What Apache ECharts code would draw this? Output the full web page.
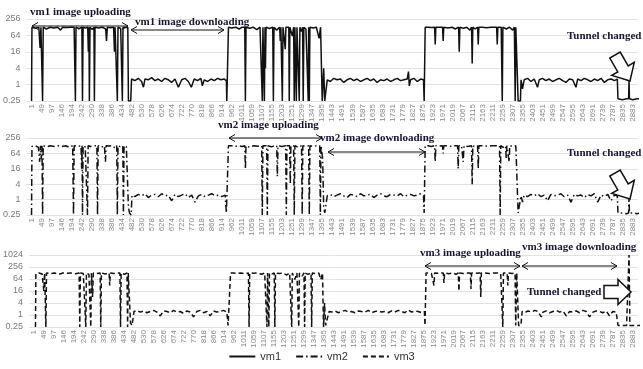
<!DOCTYPE html>
<html>
<head>
<meta charset="utf-8">
<script src="https://cdn.jsdelivr.net/npm/echarts@6/dist/echarts.min.js"></script>
<style>
  html, body { margin: 0; padding: 0; background: #fff; }
  #chart { width: 643px; height: 369px; }
</style>
</head>
<body>
<div id="chart"></div>
<script>
// tick labels of the sample axis (one every ~48 samples)
var xLabels = [1, 49, 97, 146, 194, 242, 290, 338, 386, 434, 482, 530, 578, 626, 674, 722, 770, 818, 866, 914,
  962, 1011, 1059, 1107, 1155, 1203, 1251, 1299, 1347, 1395, 1443, 1491, 1539, 1587, 1635, 1683, 1731, 1779, 1827, 1875,
  1923, 1971, 2019, 2067, 2115, 2163, 2211, 2259, 2307, 2355, 2403, 2451, 2499, 2547, 2595, 2643, 2691, 2739, 2787, 2835, 2883]

var seriesNames = ['vm1', 'vm2', 'vm3']

// [sample, value]
var vm1Data = [
  [1,0.25],[3,128],[20,118],[36,128],[42,22],[46,128],[52,128],[54,0.25],[57,128],[72,110],[90,128],[108,120],[126,128],[140,100],[150,128],[170,125],[188,128],[205,128],[211,0.25],[214,128],[228,112],[242,128],[245,0.25],[248,128],[260,118],[270,128],[273,16],[276,128],[278,0.25],[281,128],[292,105],[300,128],[302,0.25],[305,128],[322,120],[340,128],[356,110],[360,40],[364,128],[380,122],[394,128],[398,16],[401,128],[412,0.25],[415,128],[428,115],[434,128],[436,0.25],[439,128],[452,125],[462,128],[465,0.25],[476,0.25],[480,1.6],
  [496,1.4],[512,1.7],[528,1.3],[537,0.8],[544,1.6],[560,1.5],[576,1.8],[592,1.4],[608,1.6],[624,1.3],[640,1.7],[656,1.5],[672,1.2],[688,1.6],[704,0.8],[720,1.5],[736,1.7],[752,1.3],[766,0.8],[780,1.6],[796,1.4],[812,1.7],[819,0.9],[828,1.5],[844,1.3],[860,1.6],[876,1.4],[892,1.7],[908,1.5],[924,1.6],[934,1.4],[936,0.25],[942,0.25],[944,128],
  [960,120],[978,128],[995,110],[1010,128],[1022,128],[1025,0.25],[1028,128],[1045,118],[1062,128],[1080,105],[1095,128],[1104,128],[1106,0.25],[1109,128],[1113,128],[1116,0.25],[1119,128],[1121,4],[1124,128],[1140,115],[1156,128],[1159,0.25],[1162,128],[1175,100],[1189,128],[1192,40],[1195,128],[1202,0.25],[1205,128],[1213,128],[1216,20],[1219,128],[1233,128],[1235,0.25],[1238,128],[1250,60],[1256,128],[1259,0.25],[1262,128],[1266,128],[1269,0.25],[1272,128],[1280,128],[1283,0.25],[1286,128],[1294,90],[1299,128],[1302,0.25],[1305,128],[1315,110],[1323,128],[1326,0.25],[1328,128],[1331,0.25],[1334,128],[1350,120],[1365,128],[1378,50],[1385,128],[1390,128],[1393,0.25],[1400,4],[1405,0.25],[1412,0.25],[1417,1.5],
  [1432,1.3],[1448,1.7],[1464,1.5],[1480,1.6],[1496,1.2],[1512,1.5],[1528,1.7],[1544,1.4],[1560,1.6],[1576,1.3],[1592,1.5],[1608,1.7],[1624,1.4],[1640,1.6],[1656,1.2],[1672,1.5],[1688,1.4],[1704,1.6],[1720,1.3],[1736,1.5],[1752,1.7],[1768,1.4],[1784,1.5],[1800,1.6],[1806,3],[1810,0.9],[1816,1.5],[1832,1.7],[1848,1.3],[1864,1.6],[1878,1.5],[1881,0.25],[1884,0.25],[1886,128],
  [1900,128],[1918,125],[1931,128],[1934,30],[1937,128],[1955,128],[1969,128],[1972,40],[1975,128],[1995,120],[2015,128],[2030,110],[2046,128],[2049,16],[2052,128],[2070,118],[2085,128],[2100,100],[2108,128],[2111,6],[2114,128],[2125,110],[2137,128],[2140,30],[2143,128],[2160,128],[2180,122],[2200,128],[2215,128],[2228,128],[2231,30],[2234,128],[2250,128],[2255,0.25],[2258,128],[2275,110],[2290,128],[2305,100],[2313,128],[2317,0.25],[2320,128],[2328,128],[2331,0.25],[2342,0.25],[2345,1.5],
  [2352,0.7],[2360,1.5],[2376,1.7],[2392,1.3],[2408,1.6],[2424,0.8],[2432,1.5],[2448,1.7],[2464,1.4],[2480,1.6],[2496,1.3],[2512,1.5],[2528,1.7],[2544,1.4],[2560,1.2],[2576,1.6],[2592,1.5],[2608,0.8],[2616,1.6],[2632,1.4],[2648,1.7],[2664,1.5],[2680,1.3],[2696,1.6],[2712,1.4],[2728,1.7],[2744,1.2],[2760,1.5],[2776,1.6],[2792,1.4],[2806,1.6],[2809,0.3],[2830,0.28],[2850,0.3],[2860,0.3],[2862,1.5],[2864,0.3],[2880,0.28],[2900,0.3],[2915,0.3]
]

var vm2Data = [
  [1,0.25],[3,120],[18,128],[34,110],[40,30],[44,128],[48,40],[51,128],[54,0.25],[57,128],[72,115],[90,128],[110,120],[128,128],[146,118],[165,128],[182,110],[198,128],[202,0.25],[205,128],[222,120],[238,128],[241,16],[243,128],[245,0.25],[248,128],[258,115],[266,128],[269,0.25],[272,128],[285,120],[300,128],[314,128],[317,0.25],[320,128],[335,110],[350,128],[355,30],[358,128],[372,125],[390,128],[402,100],[409,128],[412,0.25],[415,128],[425,118],[438,128],[441,0.25],[444,128],[455,120],[462,128],[465,0.5],[470,0.3],[478,0.25],[482,1.5],
  [496,1.3],[512,1.6],[528,1.4],[544,1.7],[560,1.2],[576,1.5],[592,1.6],[608,1.3],[624,1.7],[640,1.4],[656,1.5],[672,0.9],[688,1.6],[704,1.3],[720,1.5],[736,1.7],[752,1.2],[768,1.5],[784,0.8],[800,1.4],[816,1.6],[832,1.3],[848,1.5],[864,1.7],[880,1.4],[896,1.5],[912,1.3],[928,1.5],[934,0.3],[940,0.3],[944,128],
  [960,128],[975,118],[990,128],[1010,120],[1022,128],[1025,16],[1028,128],[1045,110],[1065,128],[1085,122],[1103,128],[1106,0.25],[1109,128],[1127,128],[1130,0.25],[1133,128],[1150,115],[1165,128],[1175,128],[1178,8],[1181,128],[1200,120],[1218,128],[1221,0.25],[1224,128],[1237,128],[1240,4],[1243,128],[1256,128],[1259,0.25],[1262,128],[1278,110],[1294,128],[1297,0.25],[1300,128],[1315,120],[1328,128],[1331,0.25],[1334,128],[1350,118],[1365,128],[1381,128],[1384,0.25],[1387,128],[1395,40],[1400,0.5],[1405,0.3],[1412,0.3],[1417,1.4],
  [1432,1.6],[1448,1.3],[1464,1.5],[1480,1.7],[1496,1.4],[1512,1.2],[1528,1.6],[1544,1.5],[1560,1.3],[1576,1.7],[1592,1.4],[1608,1.5],[1624,1.6],[1640,1.2],[1656,1.5],[1672,1.7],[1688,1.4],[1704,1.3],[1720,1.6],[1736,1.5],[1752,1.4],[1768,1.7],[1784,1.3],[1800,1.5],[1816,1.6],[1832,1.4],[1848,1.5],[1864,1.7],[1878,1.4],[1881,0.3],[1884,0.3],[1886,128],
  [1900,128],[1915,120],[1931,128],[1934,30],[1937,128],[1955,125],[1969,128],[1972,64],[1975,128],[1995,128],[2015,118],[2030,128],[2041,128],[2044,16],[2047,128],[2060,128],[2068,30],[2072,128],[2090,120],[2108,128],[2111,4],[2114,128],[2125,115],[2137,128],[2140,16],[2143,128],[2165,128],[2185,120],[2205,128],[2225,128],[2242,128],[2245,0.25],[2248,128],[2260,110],[2271,128],[2274,40],[2277,128],[2285,128],[2288,30],[2291,128],[2305,120],[2320,128],[2328,128],[2331,0.3],[2340,0.3],[2345,1.4],
  [2352,0.8],[2360,1.5],[2376,1.3],[2392,1.6],[2408,1.4],[2424,1.7],[2440,1.3],[2456,1.5],[2472,0.9],[2488,1.6],[2504,1.4],[2520,1.5],[2536,1.7],[2552,1.3],[2568,1.5],[2584,0.8],[2600,1.6],[2616,1.4],[2632,1.5],[2648,1.2],[2664,1.6],[2680,1.4],[2696,1.7],[2712,0.8],[2728,1.5],[2744,1.3],[2760,1.6],[2776,0.9],[2792,1.5],[2806,1.4],[2809,0.3],[2830,0.3],[2850,0.28],[2860,0.3],[2862,1.4],[2864,0.3],[2885,0.3],[2900,0.28],[2915,0.3]
]

var vm3Data = [
  [8,0.25],[10,120],[25,128],[40,115],[48,16],[52,128],[55,128],[58,0.25],[61,128],[80,120],[100,128],[120,110],[140,128],[160,125],[180,128],[200,118],[218,128],[221,0.25],[224,128],[238,120],[247,128],[250,0.25],[253,128],[265,110],[271,128],[274,0.25],[277,128],[280,128],[283,8],[286,128],[300,120],[319,128],[322,0.25],[325,128],[345,115],[362,128],[365,30],[368,128],[385,120],[400,128],[414,128],[417,0.25],[420,128],[435,110],[448,128],[451,0.25],[454,128],[462,128],[465,0.4],[472,0.3],[478,0.3],[482,1.5],
  [496,1.7],[512,1.4],[528,1.6],[544,1.3],[560,1.5],[576,1.7],[592,1.4],[608,0.9],[624,1.6],[640,1.5],[656,1.3],[672,1.7],[688,1.4],[704,1.5],[720,1.2],[736,1.6],[752,1.4],[768,0.8],[784,1.5],[800,1.7],[816,1.3],[832,1.5],[848,0.9],[864,1.6],[880,1.4],[896,1.5],[912,1.7],[928,1.4],[934,0.3],[940,0.3],[946,128],
  [960,128],[978,120],[995,128],[1015,118],[1032,128],[1035,0.25],[1038,128],[1055,125],[1075,128],[1095,110],[1110,128],[1118,128],[1121,0.25],[1124,128],[1127,128],[1130,0.25],[1133,128],[1145,115],[1156,128],[1159,0.25],[1162,128],[1180,120],[1200,128],[1215,100],[1230,128],[1237,128],[1240,0.25],[1243,128],[1255,60],[1265,128],[1271,128],[1274,0.25],[1277,128],[1290,90],[1299,128],[1302,0.25],[1305,128],[1318,110],[1333,128],[1336,0.25],[1339,128],[1355,120],[1370,128],[1380,60],[1388,128],[1393,0.25],[1398,4],[1403,0.3],[1412,0.3],[1420,1.5],
  [1432,1.4],[1448,1.6],[1464,1.3],[1480,1.5],[1496,1.7],[1512,1.4],[1528,1.5],[1544,1.3],[1560,1.6],[1576,1.5],[1592,1.4],[1608,1.7],[1624,1.3],[1640,1.5],[1656,1.6],[1672,1.4],[1688,1.5],[1704,1.3],[1720,1.6],[1736,1.4],[1752,1.7],[1768,1.5],[1784,1.3],[1800,1.8],[1816,1.4],[1832,1.6],[1848,1.5],[1864,1.3],[1878,1.5],[1881,0.3],[1884,0.3],[1886,128],
  [1900,128],[1912,120],[1921,128],[1924,30],[1927,128],[1945,125],[1969,128],[1972,40],[1975,128],[1995,118],[2015,128],[2030,110],[2041,128],[2044,16],[2047,128],[2065,120],[2085,128],[2099,128],[2102,20],[2105,128],[2125,125],[2146,128],[2149,8],[2152,128],[2170,128],[2190,120],[2210,128],[2230,128],[2245,115],[2252,128],[2255,0.25],[2258,128],[2276,128],[2279,30],[2282,128],[2300,120],[2314,128],[2317,0.3],[2322,128],[2328,128],[2331,0.3],[2342,0.3],[2348,1.5],
  [2360,1.3],[2376,1.6],[2392,1.4],[2408,1.7],[2424,1.5],[2440,0.8],[2448,1.4],[2464,1.6],[2480,1.3],[2496,1.5],[2512,1.7],[2528,1.4],[2544,1.6],[2560,0.9],[2576,1.5],[2592,1.4],[2608,1.6],[2624,1.3],[2640,1.7],[2656,1.5],[2672,0.8],[2688,1.4],[2704,1.6],[2720,1.5],[2736,1.3],[2752,1.6],[2768,0.9],[2784,1.5],[2800,1.4],[2809,0.3],[2830,0.3],[2850,0.3],[2858,0.3],[2862,1024],[2866,0.3],[2885,0.3],[2900,0.3],[2915,0.3]
]

var yMaxes = [256, 256, 1024]

// layout of the three panels
var panels = [
  { top: 19, height: 82 },
  { top: 138, height: 77 },
  { top: 255, height: 72 }
]
var lineTypes = ['solid', [7, 3, 1.5, 3], [5, 3]]
var allData = [vm1Data, vm2Data, vm3Data]

var chart = echarts.init(document.getElementById('chart'))
var ink = '#111'
var annoColor = '#161630'
var annoFont = 'bold 11px "Liberation Serif", "DejaVu Serif", serif'

var grids = [], xAxes = [], yAxes = [], series = []
panels.forEach(function (p, i) {
  grids.push({ left: 26, right: 5, top: p.top, height: p.height })
  // hidden numeric axis that places the samples
  xAxes.push({ type: 'value', gridIndex: i, position: 'bottom', min: -23, max: 2905, show: false })
  // visible category axis for the tick labels
  xAxes.push({
    type: 'category', gridIndex: i, position: 'bottom', data: xLabels, boundaryGap: true,
    axisLine: { show: false }, axisTick: { show: false },
    axisLabel: { interval: 0, rotate: 90, fontSize: 8, color: '#8a8a8a', margin: 3, fontFamily: 'Liberation Sans' }
  })
  yAxes.push({
    type: 'log', logBase: 4, gridIndex: i, min: 0.25, max: yMaxes[i],
    splitNumber: 6,
    axisLine: { show: false }, axisTick: { show: false },
    axisLabel: {
      fontSize: 9, color: '#7a7a7a', margin: 6, fontFamily: 'Liberation Sans',
      formatter: function (v) { return String(v) }
    },
    splitLine: { lineStyle: { color: '#e2e2e2', width: 1 } }
  })
  series.push({
    name: seriesNames[i],
    type: 'line',
    xAxisIndex: i * 2,
    yAxisIndex: i,
    data: allData[i],
    symbol: 'none',
    showSymbol: false,
    lineStyle: { color: ink, width: 1.5, type: lineTypes[i] },
    itemStyle: { color: ink }
  })
})

// annotation helpers
function label(text, x, y) {
  return {
    type: 'text', x: x, y: y, z: 100,
    style: { text: text, font: annoFont, fill: annoColor, verticalAlign: 'middle', align: 'left' }
  }
}
function dblArrow(x1, x2, y) {
  var s = { stroke: ink, lineWidth: 1, fill: null }
  return [
    { type: 'line', z: 100, shape: { x1: x1, y1: y, x2: x2, y2: y }, style: s },
    { type: 'polyline', z: 100, shape: { points: [[x1 + 6, y - 3.5], [x1, y], [x1 + 6, y + 3.5]] }, style: s },
    { type: 'polyline', z: 100, shape: { points: [[x2 - 6, y - 3.5], [x2, y], [x2 - 6, y + 3.5]] }, style: s }
  ]
}
function blockArrow(tx, ty, angleDeg, len, shaftW, headW, headLen) {
  var a = angleDeg * Math.PI / 180
  var dx = Math.cos(a), dy = Math.sin(a)
  var nx = -dy, ny = dx
  var bx = tx - len * dx, by = ty - len * dy
  var hx = tx - headLen * dx, hy = ty - headLen * dy
  var pts = [
    [bx + shaftW * nx, by + shaftW * ny],
    [hx + shaftW * nx, hy + shaftW * ny],
    [hx + headW * nx, hy + headW * ny],
    [tx, ty],
    [hx - headW * nx, hy - headW * ny],
    [hx - shaftW * nx, hy - shaftW * ny],
    [bx - shaftW * nx, by - shaftW * ny]
  ]
  return { type: 'polygon', z: 100, shape: { points: pts }, style: { fill: '#fff', stroke: ink, lineWidth: 1.5 } }
}

var graphics = [
  label('vm1 image uploading', 30, 12),
  label('vm1 image downloading', 135, 22),
  label('Tunnel changed', 567, 36),
  label('vm2 image uploading', 218, 125),
  label('vm2 image downloading', 320, 138),
  label('Tunnel changed', 567, 153),
  label('vm3 image uploading', 420, 253),
  label('vm3 image downloading', 522, 247),
  label('Tunnel changed', 527, 292),
  blockArrow(630, 81, 60, 30, 6, 13, 14),
  blockArrow(630, 199, 60, 30, 6, 13, 14),
  blockArrow(631, 292, 0, 27, 6.5, 12.5, 13)
]
  .concat(dblArrow(32, 128, 26))
  .concat(dblArrow(131, 224, 30))
  .concat(dblArrow(229, 322, 138))
  .concat(dblArrow(328, 425, 152))
  .concat(dblArrow(425, 520, 266))
  .concat(dblArrow(522, 617, 266))

chart.setOption({
  animation: false,
  backgroundColor: '#fff',
  grid: grids,
  xAxis: xAxes,
  yAxis: yAxes,
  series: series,
  legend: {
    data: seriesNames,
    bottom: 2,
    left: 'center',
    itemWidth: 26,
    itemHeight: 8,
    itemGap: 14,
    itemStyle: { opacity: 0 },
    textStyle: { fontSize: 11, color: '#333', fontFamily: 'Liberation Sans' }
  },
  graphic: graphics
})
</script>
</body>
</html>
